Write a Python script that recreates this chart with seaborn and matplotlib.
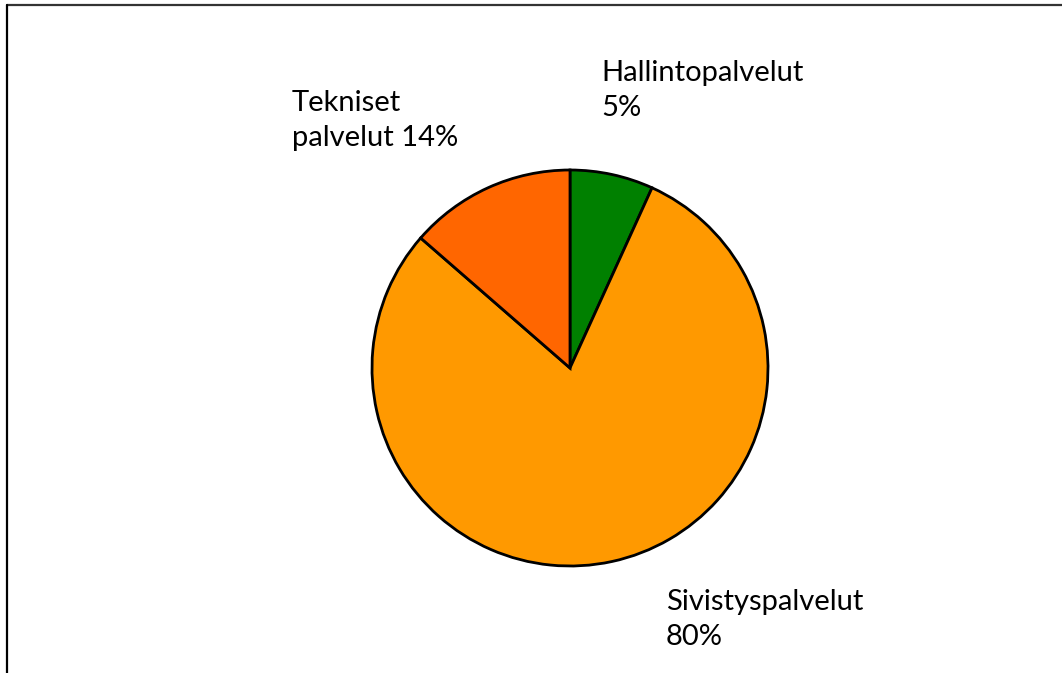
import matplotlib

matplotlib.use("Agg")
import matplotlib.pyplot as plt
import seaborn as sns
from matplotlib.lines import Line2D

# data
categories = ["Hallintopalvelut", "Sivistyspalvelut", "Tekniset palvelut"]
shares = [6.8, 79.6, 13.6]          # slice sizes as drawn
label_pct = [5, 80, 14]             # percentages printed in labels
colors = ["#008000", "#FF9900", "#FF6600"]
label_text = ["Hallintopalvelut\n5%", "Sivistyspalvelut\n80%", "Tekniset\npalvelut 14%"]

sns.set_theme(style="white")
plt.rcParams["font.family"] = ["Lato", "DejaVu Sans"]

W, H = 1062, 673
fig = plt.figure(figsize=(W / 100, H / 100), dpi=100)
ax = fig.add_axes([0, 0, 1, 1])

ax.pie(shares, colors=colors, startangle=90, counterclock=False,
       center=(570, H - 368), radius=198, frame=True,
       wedgeprops=dict(edgecolor="black", linewidth=2))
ax.set_xlim(0, W)
ax.set_ylim(0, H)
ax.set_aspect("equal")
ax.axis("off")

# label positions (pixel, top-left of text)
label_pos = [(601, 60), (666, 589), (292, 90)]
for txt, (x, y) in zip(label_text, label_pos):
    ax.text(x, H - y, txt, ha="left", va="top", fontsize=21,
            color="black", linespacing=1.45)

# frame lines (top and left of the cropped chart area)
fig.add_artist(Line2D([7 / W, 1], [1 - 5 / H, 1 - 5 / H], color="#333333", lw=1.6))
fig.add_artist(Line2D([7 / W, 7 / W], [0, 1 - 5 / H], color="black", lw=1.6))

fig.savefig("out.png", dpi=100)
